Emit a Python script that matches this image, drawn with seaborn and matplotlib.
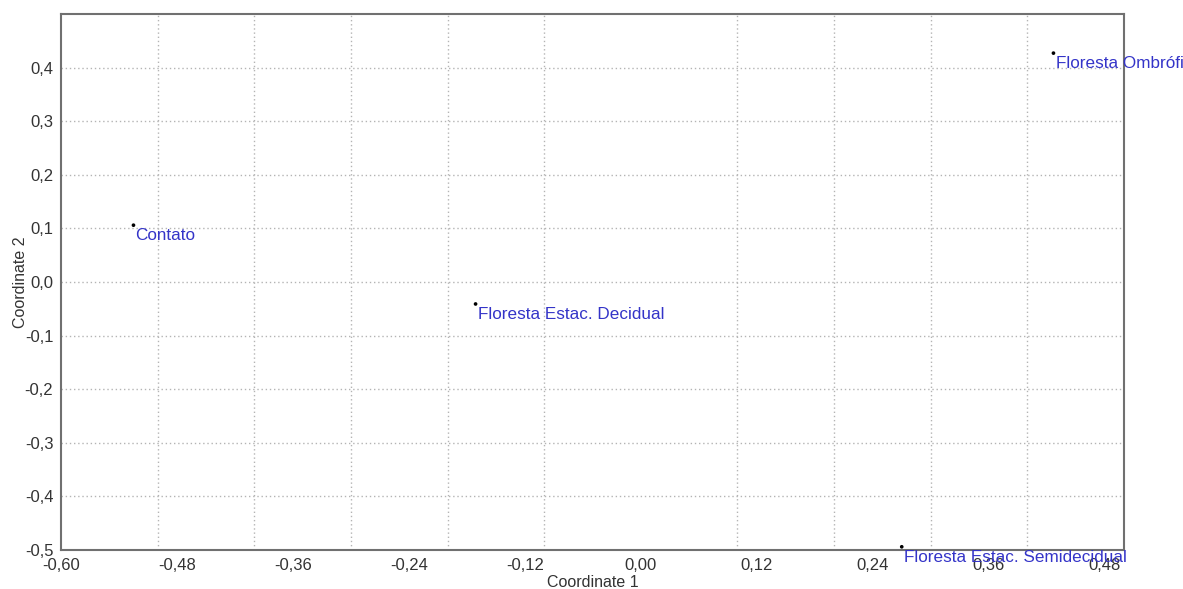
import numpy as np
import pandas as pd
import matplotlib
matplotlib.use("Agg")
import matplotlib.pyplot as plt
import seaborn as sns
from matplotlib.ticker import FixedLocator, FuncFormatter

names = ["Contato", "Floresta Estac. Decidual", "Floresta Ombrófila", "Floresta Estac. Semidecidual"]
coord1 = [-0.525, -0.171, 0.427, 0.270]
coord2 = [0.106, -0.041, 0.427, -0.494]

x_ticks = [-0.60, -0.48, -0.36, -0.24, -0.12, 0.00, 0.12, 0.24, 0.36, 0.48]
x_grid = [-0.5, -0.4, -0.3, -0.2, -0.1, 0.0, 0.1, 0.2, 0.3, 0.4]
y_ticks = [-0.5, -0.4, -0.3, -0.2, -0.1, 0.0, 0.1, 0.2, 0.3, 0.4]

df = pd.DataFrame({"name": names, "Coordinate 1": coord1, "Coordinate 2": coord2})

sns.set_style("white")
plt.rcParams["font.family"] = ["Liberation Sans", "DejaVu Sans"]

fig = plt.figure(figsize=(11.83, 5.89), dpi=100)
ax = fig.add_axes([61 / 1183, 1 - 550 / 589, (1124 - 61) / 1183, (550 - 14) / 589])

sns.scatterplot(data=df, x="Coordinate 1", y="Coordinate 2", ax=ax, color="black",
                s=7, edgecolor="none", zorder=3)

for n, x, y in zip(df["name"], df["Coordinate 1"], df["Coordinate 2"]):
    ax.annotate(n, (x, y), xytext=(1.5, -2), textcoords="offset points",
                ha="left", va="top", color="#3434c8", fontsize=12.3, clip_on=False,
                annotation_clip=False, zorder=4)

ax.set_xlim(-0.60, 0.50)
ax.set_ylim(-0.5, 0.5)

ax.xaxis.set_major_locator(FixedLocator(x_ticks))
ax.xaxis.set_minor_locator(FixedLocator(x_grid))
ax.yaxis.set_major_locator(FixedLocator(y_ticks))
ax.xaxis.set_major_formatter(FuncFormatter(lambda v, p: f"{v:.2f}".replace(".", ",").replace("-0,00", "0,00")))
ax.yaxis.set_major_formatter(FuncFormatter(lambda v, p: f"{v:.1f}".replace(".", ",").replace("-0,0", "0,0")))

ax.grid(False)
ax.grid(which="minor", axis="x", color="#b4b4b4", linestyle=(0, (1, 2)), linewidth=1)
ax.grid(which="major", axis="y", color="#b4b4b4", linestyle=(0, (1, 2)), linewidth=1)

ax.tick_params(axis="both", which="major", direction="out", length=4, width=1,
               color="#505050", labelsize=12, labelcolor="#333333", pad=1.5)
ax.tick_params(axis="x", which="minor", length=0)

for s in ax.spines.values():
    s.set_color("#707070")
    s.set_linewidth(1.5)

ax.set_xlabel("Coordinate 1", fontsize=11.5, color="#333333", labelpad=2)
ax.set_ylabel("Coordinate 2", fontsize=11.5, color="#333333", labelpad=-2)

fig.savefig("out.png", dpi=100)
